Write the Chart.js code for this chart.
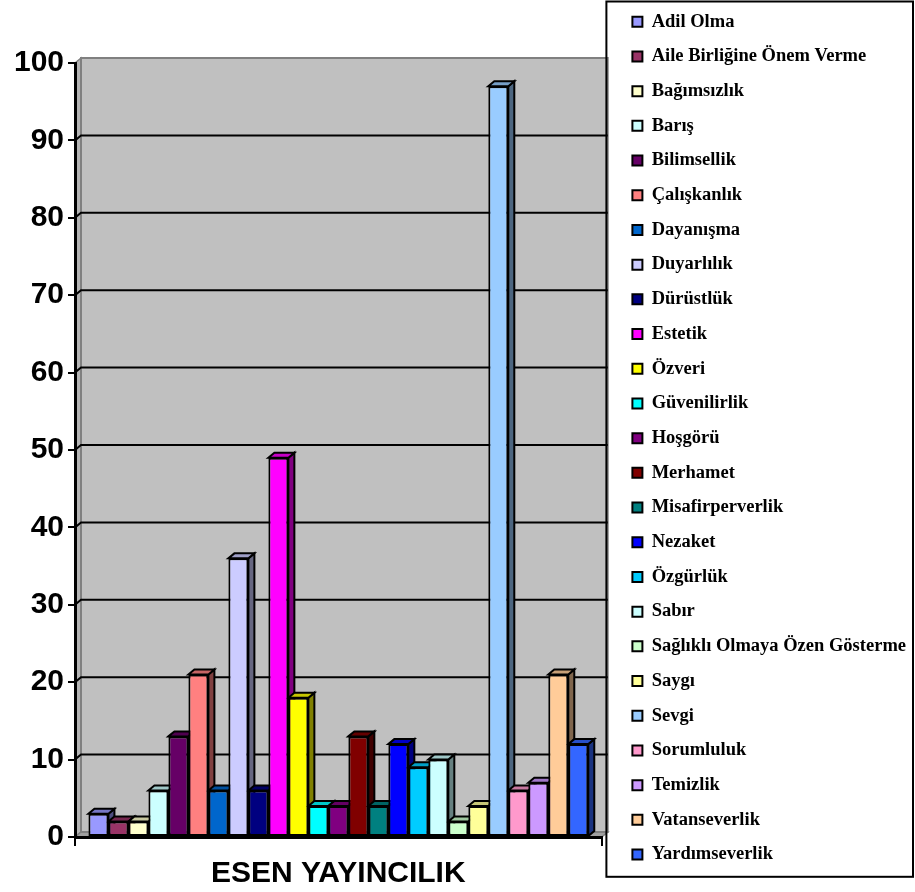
<!DOCTYPE html>
<html>
<head>
<meta charset="utf-8">
<script src="https://cdn.jsdelivr.net/npm/chart.js@4/dist/chart.umd.min.js"></script>
<style>
  html, body { margin: 0; padding: 0; background: #fff; }
  #wrap { width: 915px; height: 892px; position: relative; }
</style>
</head>
<body>
<div id="wrap"><canvas id="chart"></canvas></div>
<script>
// Data
const categories = ['ESEN YAYINCILIK'];
const seriesNames = [
  'Adil Olma', 'Aile Birliğine Önem Verme', 'Bağımsızlık', 'Barış', 'Bilimsellik',
  'Çalışkanlık', 'Dayanışma', 'Duyarlılık', 'Dürüstlük', 'Estetik',
  'Özveri', 'Güvenilirlik', 'Hoşgörü', 'Merhamet', 'Misafirperverlik',
  'Nezaket', 'Özgürlük', 'Sabır', 'Sağlıklı Olmaya Özen Gösterme', 'Saygı',
  'Sevgi', 'Sorumluluk', 'Temizlik', 'Vatanseverlik', 'Yardımseverlik'
];
const seriesValues = [3, 2, 2, 6, 13, 21, 6, 36, 6, 49, 18, 4, 4, 13, 4, 12, 9, 10, 2, 4, 97, 6, 7, 21, 12];
const seriesColors = [
  '#9999FF', '#993366', '#FFFFCC', '#CCFFFF', '#660066',
  '#FF8080', '#0066CC', '#CCCCFF', '#000080', '#FF00FF',
  '#FFFF00', '#00FFFF', '#800080', '#800000', '#008080',
  '#0000FF', '#00CCFF', '#CCFFFF', '#CCFFCC', '#FFFF99',
  '#99CCFF', '#FF99CC', '#CC99FF', '#FFCC99', '#3366FF'
];
const yMin = 0;
const yMax = 100;
const yStep = 10;

// 3D depth of the walls and bars
const DX = 6, DY = 5;

function shade(hex, f) {
  const n = parseInt(hex.slice(1), 16);
  const r = Math.round(((n >> 16) & 255) * f);
  const g = Math.round(((n >> 8) & 255) * f);
  const b = Math.round((n & 255) * f);
  return `rgb(${r},${g},${b})`;
}

// back wall, side wall, floor and gridlines
const wallPlugin = {
  id: 'walls',
  beforeDraw(chart) {
    const { ctx, chartArea: a, scales: { y } } = chart;
    ctx.save();
    ctx.fillStyle = '#c0c0c0';
    ctx.fillRect(a.left + DX, a.top - DY, a.right - a.left, a.bottom - a.top);

    ctx.lineWidth = 1.5;
    ctx.strokeStyle = '#808080';
    // left wall
    ctx.beginPath();
    ctx.moveTo(a.left, a.top);
    ctx.lineTo(a.left + DX, a.top - DY);
    ctx.lineTo(a.left + DX, a.bottom - DY);
    ctx.lineTo(a.left, a.bottom);
    ctx.closePath();
    ctx.fillStyle = '#b4b4b4';
    ctx.fill();
    ctx.stroke();
    // floor
    ctx.beginPath();
    ctx.moveTo(a.left, a.bottom);
    ctx.lineTo(a.left + DX, a.bottom - DY);
    ctx.lineTo(a.right + DX, a.bottom - DY);
    ctx.lineTo(a.right, a.bottom);
    ctx.closePath();
    ctx.fillStyle = '#a0a0a0';
    ctx.fill();
    ctx.stroke();
    // wall outline
    ctx.lineWidth = 2;
    ctx.strokeRect(a.left + DX, a.top - DY, a.right - a.left, a.bottom - a.top);

    // gridlines on the back wall
    ctx.strokeStyle = '#000';
    ctx.lineWidth = 2;
    y.ticks.forEach(t => {
      if (t.value <= y.min || t.value >= y.max) return;
      const py = y.getPixelForValue(t.value);
      ctx.beginPath();
      ctx.moveTo(a.left, py);
      ctx.lineTo(a.left + DX, py - DY);
      ctx.lineTo(a.right + DX, py - DY);
      ctx.stroke();
    });
    ctx.restore();
  }
};

// side and top faces of each bar
const depthPlugin = {
  id: 'depth',
  beforeDatasetsDraw(chart) {
    const ctx = chart.ctx;
    ctx.save();
    ctx.strokeStyle = '#000';
    ctx.lineWidth = 2;
    chart.data.datasets.forEach((ds, i) => {
      const meta = chart.getDatasetMeta(i);
      meta.data.forEach(bar => {
        const { x, y, base, width } = bar.getProps(['x', 'y', 'base', 'width'], true);
        const l = x - width / 2, r = x + width / 2;
        const col = ds.backgroundColor;
        ctx.beginPath();
        ctx.moveTo(r, y);
        ctx.lineTo(r + DX, y - DY);
        ctx.lineTo(r + DX, base - DY);
        ctx.lineTo(r, base);
        ctx.closePath();
        ctx.fillStyle = shade(col, 0.5);
        ctx.fill();
        ctx.stroke();
        ctx.beginPath();
        ctx.moveTo(l, y);
        ctx.lineTo(l + DX, y - DY);
        ctx.lineTo(r + DX, y - DY);
        ctx.lineTo(r, y);
        ctx.closePath();
        ctx.fillStyle = shade(col, 0.78);
        ctx.fill();
        ctx.stroke();
      });
    });
    ctx.restore();
  }
};

// frame around the legend
const legendFrame = {
  id: 'legendFrame',
  afterDraw(chart) {
    const lg = chart.legend;
    const hb = lg.legendHitBoxes;
    if (!hb || !hb.length) return;
    const ctx = chart.ctx;
    const left = hb[0].left - 26;
    const top = hb[0].top - 11;
    const last = hb[hb.length - 1];
    const bottom = last.top + last.height + 13;
    const right = chart.width - 2;
    ctx.save();
    ctx.strokeStyle = '#000';
    ctx.lineWidth = 2;
    ctx.strokeRect(left, top, right - left, bottom - top);
    ctx.restore();
  }
};

const datasets = seriesNames.map((name, i) => ({
  label: name,
  data: [seriesValues[i]],
  backgroundColor: seriesColors[i],
  borderColor: '#000',
  borderWidth: 2,
  borderSkipped: false,
  categoryPercentage: 0.949,
  barPercentage: 1.0
}));

new Chart(document.getElementById('chart'), {
  type: 'bar',
  data: { labels: categories, datasets: datasets },
  plugins: [wallPlugin, depthPlugin, legendFrame],
  options: {
    responsive: true,
    maintainAspectRatio: false,
    animation: false,
    layout: { padding: { top: -3.7, right: -1, bottom: 0, left: 0 } },
    scales: {
      x: {
        grid: { display: true, drawOnChartArea: false, drawTicks: true, tickLength: 9, color: '#000', lineWidth: 2 },
        border: { display: true, color: '#000', width: 3 },
        ticks: {
          color: '#000',
          padding: 10,
          font: { family: 'Arial, "Liberation Sans", sans-serif', size: 30, weight: 'bold' }
        },
        afterFit: s => { s.height = 55; }
      },
      xTop: {
        type: 'category',
        position: 'top',
        grid: { display: false },
        border: { display: false },
        ticks: { display: false },
        afterFit: s => { s.height = 66.7; }
      },
      y: {
        min: yMin,
        max: yMax,
        ticks: {
          stepSize: yStep,
          color: '#000',
          padding: 4,
          font: { family: 'Arial, "Liberation Sans", sans-serif', size: 30, weight: 'bold' }
        },
        grid: { display: true, drawOnChartArea: false, drawTicks: true, tickLength: 7, color: '#000', lineWidth: 2 },
        border: { display: true, color: '#000', width: 3 },
        afterFit: s => { s.width = 75; }
      },
      yRight: {
        type: 'linear',
        position: 'right',
        grid: { display: false },
        border: { display: false },
        ticks: { display: false },
        afterFit: s => { s.width = 14.5; }
      }
    },
    plugins: {
      tooltip: { enabled: false },
      title: { display: false },
      legend: {
        position: 'right',
        align: 'start',
        maxWidth: 330,
        labels: {
          color: '#000',
          boxWidth: 10,
          boxHeight: 10,
          padding: 16.2,
          font: { family: '"Times New Roman", "Liberation Serif", serif', size: 18.5, weight: 'bold' }
        }
      }
    }
  }
});
</script>
</body>
</html>
